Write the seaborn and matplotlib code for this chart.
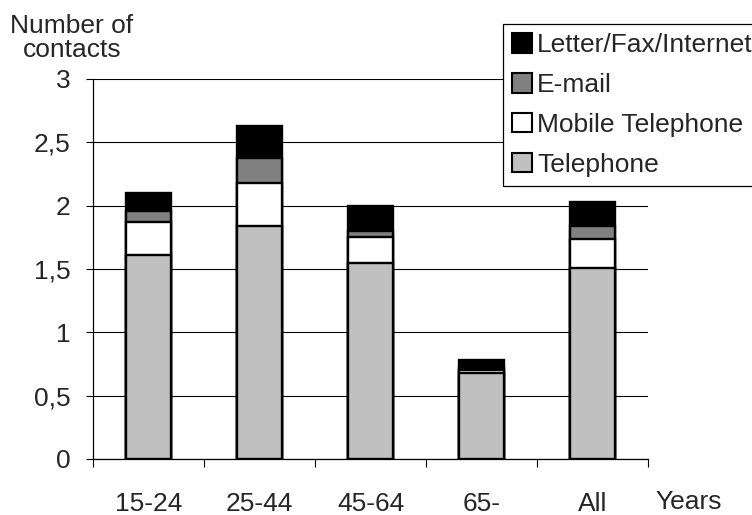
import matplotlib
matplotlib.use("Agg")
import matplotlib.pyplot as plt
from matplotlib.patches import Patch
from matplotlib.ticker import FixedLocator
import numpy as np
import pandas as pd
import seaborn as sns

# Contacts per person by age group, split by channel
age_groups = ["15-24", "25-44", "45-64", "65-", "All"]
telephone = [1.61, 1.84, 1.55, 0.68, 1.51]
mobile = [0.26, 0.34, 0.20, 0.025, 0.23]
email = [0.09, 0.20, 0.05, 0.01, 0.10]
letter_fax_internet = [0.14, 0.25, 0.20, 0.065, 0.19]

y_ticks = [0, 0.5, 1, 1.5, 2, 2.5, 3]
y_tick_labels = ["0", "0,5", "1", "1,5", "2", "2,5", "3"]

series_names = ["Telephone", "Mobile Telephone", "E-mail", "Letter/Fax/Internet"]
series_colors = ["#c0c0c0", "#ffffff", "#808080", "#000000"]

sns.set_theme(style="white")
plt.rcParams["font.family"] = ["Liberation Sans", "DejaVu Sans"]

FS = 19

df = pd.DataFrame({
    "age": age_groups,
    "Telephone": telephone,
    "Mobile Telephone": mobile,
    "E-mail": email,
    "Letter/Fax/Internet": letter_fax_internet,
})
cum = df[series_names].cumsum(axis=1)
cum["age"] = df["age"]

fig = plt.figure(figsize=(7.52, 5.15), dpi=100)
ax = fig.add_axes([93 / 752, 1 - 459 / 515, 555 / 752, 380 / 515])

# stacked bars: draw cumulative totals from the top layer down
for name, color in reversed(list(zip(series_names, series_colors))):
    sns.barplot(data=cum, x="age", y=name, order=age_groups, color=color,
                width=0.414, edgecolor="black", linewidth=1.7,
                saturation=1, ax=ax, zorder=3)

ax.set_ylim(0, 3)
ax.set_xlim(-0.5, 4.5)
ax.set_yticks(y_ticks)
ax.set_yticklabels(y_tick_labels, fontsize=FS)
ax.yaxis.grid(True, color="black", linewidth=0.8)
ax.set_axisbelow(True)
ax.tick_params(axis="y", direction="out", length=5, width=0.8, color="black", pad=11,
               left=True)
ax.tick_params(axis="x", which="major", length=0, pad=24, labelsize=FS)
ax.xaxis.set_minor_locator(FixedLocator(np.arange(-0.5, 5.0, 1.0)))
ax.tick_params(axis="x", which="minor", direction="out", length=6, width=0.8,
               color="black", bottom=True)
ax.set_xlabel("")
ax.set_ylabel("")
for side in ["top", "right"]:
    ax.spines[side].set_visible(False)
for side in ["left", "bottom"]:
    ax.spines[side].set_color("black")
    ax.spines[side].set_linewidth(0.9)

fig.text(72 / 752, 1 - 38 / 515, "Number of\ncontacts", ha="center", va="center",
         fontsize=FS, linespacing=1.05)
fig.text(655 / 752, 1 - 502 / 515, "Years", ha="left", va="center", fontsize=FS)

handles = [Patch(facecolor=c, edgecolor="black", linewidth=1.5, label=n)
           for n, c in zip(series_names, series_colors)][::-1]
leg = fig.legend(handles=handles, loc="upper left",
                 bbox_to_anchor=(503 / 752, 1 - 24 / 515), fontsize=FS,
                 frameon=True, fancybox=False, edgecolor="black", framealpha=1,
                 handlelength=0.75, handleheight=0.75, handletextpad=0.2,
                 labelspacing=0.6, borderpad=0.35, borderaxespad=0)
leg.get_frame().set_linewidth(0.9)

fig.savefig("out.png", dpi=100)
